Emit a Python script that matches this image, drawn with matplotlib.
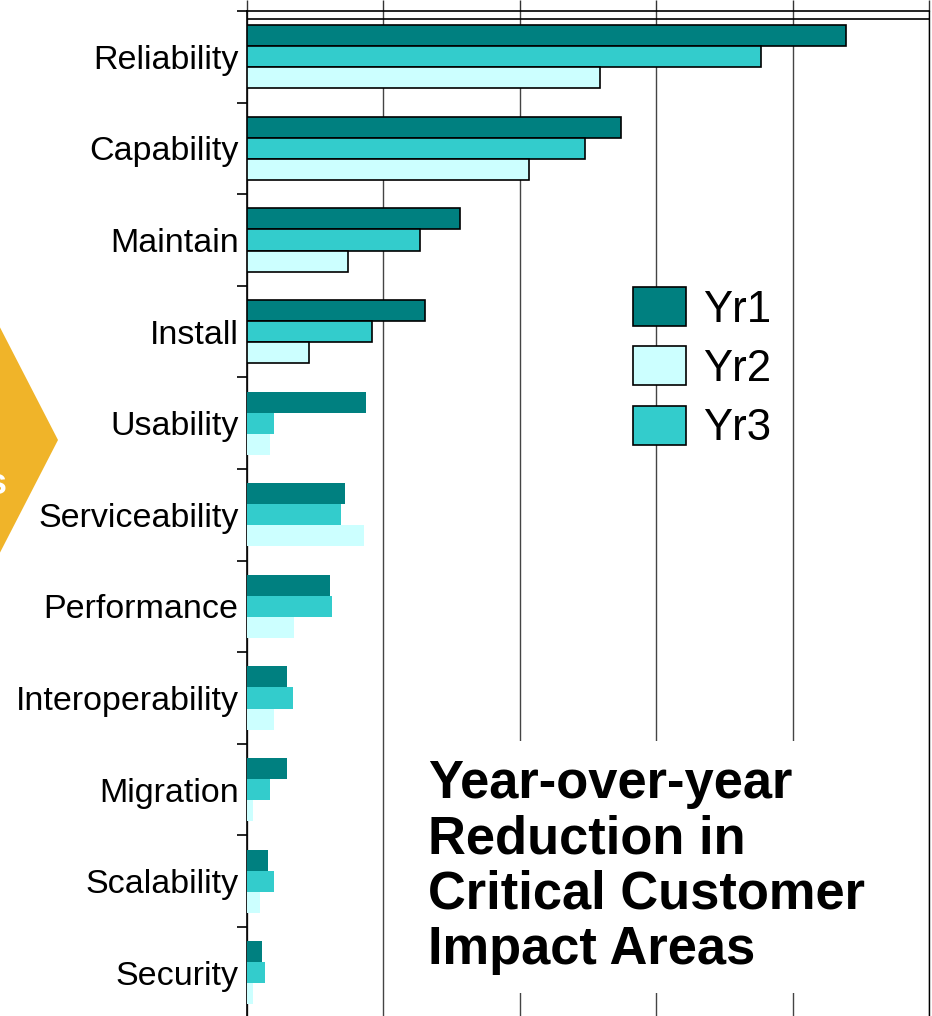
#!/usr/bin/env python3
# -*- coding: utf-8 -*-

"""Year-over-year reduction in critical customer impact areas, grouped horizontal bars."""

import numpy
import matplotlib
matplotlib.use('Agg')
import matplotlib.pyplot as plt
from matplotlib.patches import Polygon, Patch

plt.rcParams['font.family'] = ['Liberation Sans', 'DejaVu Sans']

categories = ['Reliability', 'Capability', 'Maintain', 'Install', 'Usability', 'Serviceability',
              'Performance', 'Interoperability', 'Migration', 'Scalability', 'Security']
yr1 = [87.8, 54.9, 31.3, 26.1, 17.5, 14.4, 12.2, 5.9, 5.9, 3.1, 2.2]
yr2 = [51.7, 41.3, 14.8, 9.1, 3.4, 17.2, 6.9, 4.0, 0.9, 1.9, 0.9]
yr3 = [75.3, 49.6, 25.3, 18.4, 4.0, 13.8, 12.5, 6.8, 3.4, 4.0, 2.6]
series_labels = ['Yr1', 'Yr2', 'Yr3']
title_lines = ['Year-over-year', 'Reduction in', 'Critical Customer', 'Impact Areas']

c_yr1 = '#008080'
c_yr2 = '#CCFFFF'
c_yr3 = '#33CCCC'

W, H = 932, 1016
fig = plt.figure(figsize=(W / 100, H / 100), dpi=100)

# axes placed in pixel terms: left spine x=247, right x=929, rows 91.6 px, top y=11
ax_left, ax_right = 247, 929
ax_top = 11
row = 91.6
n = len(categories)
ax_h = row * n
ax = fig.add_axes([ax_left / W, (H - ax_top - ax_h) / H, (ax_right - ax_left) / W, ax_h / H])

y = numpy.arange(n)
h = 0.23
edges = ['black' if i < 4 else 'none' for i in range(n)]
ax.barh(y - h, yr1, height=h, color=c_yr1, edgecolor=edges, linewidth=1.2, zorder=3)
ax.barh(y, yr3, height=h, color=c_yr3, edgecolor=edges, linewidth=1.2, zorder=3)
ax.barh(y + h, yr2, height=h, color=c_yr2, edgecolor=edges, linewidth=1.2, zorder=3)

ax.set_xlim(0, 100)
ax.set_ylim(n - 0.5, -0.5)

ax.set_yticks(y)
ax.set_yticklabels(categories, fontsize=24.5)
ax.set_yticks(numpy.arange(n + 1) - 0.5, minor=True)
ax.tick_params(axis='y', which='major', length=0, pad=6)
ax.tick_params(axis='y', which='minor', direction='out', length=7.5, width=1.2)

ax.xaxis.tick_top()
ax.set_xticks(numpy.arange(0, 101, 20))
ax.tick_params(axis='x', which='major', direction='out', length=8, width=1, labeltop=False, labelbottom=False, color='#333333')
ax.xaxis.grid(True, color='#444444', linewidth=1)
ax.set_axisbelow(True)

for s in ['left', 'top']:
    ax.spines[s].set_linewidth(1.2)
ax.spines['right'].set_linewidth(1)
ax.spines['bottom'].set_visible(False)
ax.axhline(-0.5 + 8 / row, color='black', linewidth=1.2, zorder=4)

handles = [Patch(facecolor=c, edgecolor='black', linewidth=1.2) for c in [c_yr1, c_yr2, c_yr3]]
fig.legend(handles, series_labels, loc='upper left', bbox_to_anchor=(633 / W, 1 - 287 / H),
           bbox_transform=fig.transFigure, frameon=False, fontsize=31.5, borderpad=0,
           borderaxespad=0, handlelength=1.21, handleheight=1.0, handletextpad=0.39,
           labelspacing=0.36)

fig.text(428 / W, 1 - 759 / H, '\n'.join(title_lines), ha='left', va='top', fontsize=37.8,
         fontweight='bold', linespacing=1.14,
         bbox=dict(facecolor='white', edgecolor='none', pad=13))

# orange chevron clipped at the left edge
chev = Polygon([(-10 / W, 1 - 308 / H), (58 / W, 1 - 440 / H), (-10 / W, 1 - 572 / H)],
               closed=True, facecolor='#F0B429', edgecolor='none', transform=fig.transFigure)
fig.patches.append(chev)
fig.text(7 / W, 1 - 484 / H, 's', ha='right', va='center', fontsize=26, fontweight='bold', color='white')

plt.savefig('out.png', dpi=100)
